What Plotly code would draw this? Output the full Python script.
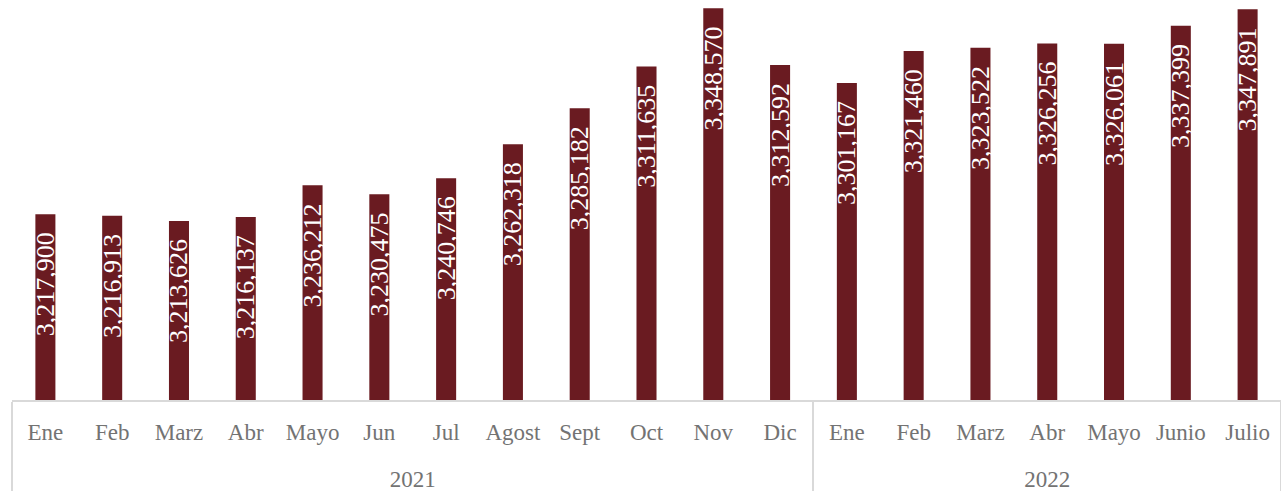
import plotly.graph_objects as go

years = ["2021"] * 12 + ["2022"] * 7
months = ["Ene", "Feb", "Marz", "Abr", "Mayo", "Jun", "Jul", "Agost", "Sept", "Oct", "Nov", "Dic",
          "Ene", "Feb", "Marz", "Abr", "Mayo", "Junio", "Julio"]
values = [3217900, 3216913, 3213626, 3216137, 3236212, 3230475, 3240746, 3262318, 3285182,
          3311635, 3348570, 3312592, 3301167, 3321460, 3323522, 3326256, 3326061, 3337399, 3347891]

month_ticks = [m + "<br>\u00a0" for m in months]

fig = go.Figure(go.Bar(
    x=[years, month_ticks], y=values,
    marker=dict(color="#6A1B21", line=dict(width=0)),
    texttemplate="%{y:,}\u2002\u200a", textposition="inside", insidetextanchor="end",
    textangle=-90, textfont=dict(color="white", size=26, family="Liberation Serif"),
    cliponaxis=False, hoverinfo="skip",
))
fig.update_layout(
    width=1281, height=491, margin=dict(l=12, r=0, t=6, b=91),
    plot_bgcolor="white", paper_bgcolor="white", bargap=0.7, showlegend=False,
    uniformtext=dict(minsize=26, mode="show"),
    font=dict(family="Liberation Serif", color="#737373", size=23),
)
fig.update_yaxes(range=[3100000, 3350000], visible=False, showgrid=False)
fig.update_xaxes(showline=True, linecolor="#D9D9D9", linewidth=2, showdividers=True,
                 dividercolor="#D9D9D9", dividerwidth=2, ticks="", automargin=False,
                 ticklabelstandoff=10,
                 tickfont=dict(family="Liberation Serif", size=23, color="#737373"))
fig.write_html("out.html", config={"displayModeBar": False},
               post_script="document.body.style.margin='0';")
